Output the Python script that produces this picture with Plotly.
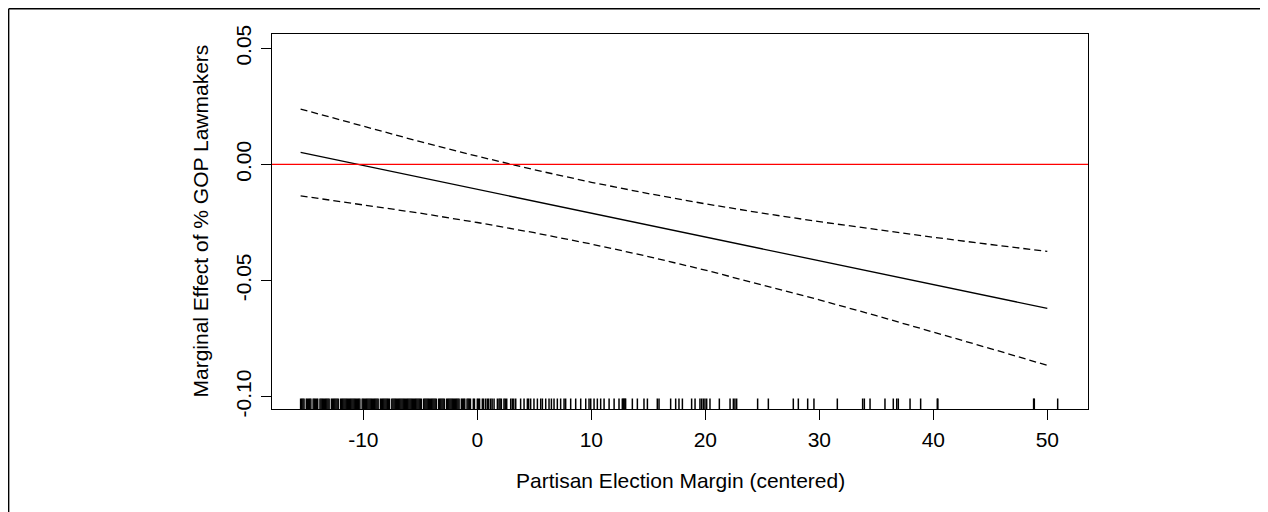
import plotly.graph_objects as go

# Marginal effect line and 95% CI
margin_x = [-15.5, -10, -5, 0, 5, 10, 15, 20, 25, 30, 35, 40, 45, 50]
effect = [0.00516, -0.00048, -0.00561, -0.01073, -0.01585, -0.02098, -0.02610,
          -0.03123, -0.03636, -0.04148, -0.04661, -0.05173, -0.05686, -0.06198]
upper = [0.02385, 0.01634, 0.00977, 0.00354, -0.00230, -0.00768, -0.01255,
         -0.01696, -0.02098, -0.02466, -0.02810, -0.03135, -0.03446, -0.03746]
lower = [-0.01353, -0.01730, -0.02099, -0.02500, -0.02940, -0.03428, -0.03965,
         -0.04550, -0.05174, -0.05830, -0.06512, -0.07211, -0.07926, -0.08650]

# Rug of observed election margins
rug_dense = [-15.5, -15.4, -15.3, -15.2, -15.0, -14.9, -14.8, -14.7, -14.6, -14.4, -14.3, -14.2,
             -14.1, -14.0, -13.8, -13.7, -13.6, -13.5, -13.4, -13.3, -13.2, -13.1, -13.0, -12.8,
             -12.7, -12.6, -12.5, -12.4, -12.3, -12.2, -12.0, -11.9, -11.8, -11.7, -11.6, -11.5,
             -11.4, -11.3, -11.2, -11.1, -11.0, -10.9, -10.8, -10.7, -10.6, -10.5, -10.4, -10.3,
             -10.1, -10.0, -9.9, -9.8, -9.7, -9.6, -9.5, -9.4, -9.3, -9.2, -9.1, -9.0, -8.9, -8.8,
             -8.7, -8.5, -8.4, -8.3, -8.2, -8.1, -8.0, -7.9, -7.8, -7.7, -7.5, -7.4, -7.3, -7.2,
             -7.1, -7.0, -6.9, -6.8, -6.7, -6.6, -6.5, -6.4, -6.3, -6.2, -6.1, -6.0, -5.9, -5.8,
             -5.7, -5.6, -5.5, -5.4, -5.3, -5.2, -5.1, -5.0, -4.9, -4.7, -4.6, -4.5, -4.4, -4.3,
             -4.2, -4.1, -4.0, -3.9, -3.8, -3.7, -3.6, -3.4, -3.3, -3.2, -3.1, -3.0, -2.9, -2.7,
             -2.6, -2.5, -2.4, -2.3, -2.2, -2.1, -2.0, -1.9, -1.8, -1.7, -1.6, -1.4, -1.3, -1.2,
             -1.1, -0.9, -0.8, -0.7, -0.6]
rug_mid = [-0.35, -0.25, 0.00, 0.10, 0.20, 0.44, 0.55, 0.73, 0.88, 1.00, 1.17, 1.30, 1.47, 1.76,
           1.90, 2.00, 2.11, 2.34, 2.45, 2.58, 2.93, 3.07, 3.20, 3.37, 3.80, 4.10, 4.39, 4.50,
           4.68, 4.97, 5.27, 5.56, 5.71, 6.00, 6.29, 6.50, 6.73, 7.02, 7.31, 7.61, 7.75, 8.19,
           8.63, 9.07, 9.51, 9.80, 9.95, 10.24, 10.53, 10.82, 11.12, 11.56, 12.00, 12.43, 12.72,
           12.80, 12.87, 12.95, 13.01, 13.60, 14.04, 14.62, 14.92, 15.79, 15.94, 16.96, 17.40,
           17.69, 17.99]
rug_sparse = [18.80, 19.10, 19.53, 19.68, 19.83, 19.97, 20.12, 20.41, 21.23, 22.17, 22.46,
              22.60, 22.75, 24.59, 25.53, 27.72, 28.16, 28.98, 29.53, 31.58, 33.80, 33.95,
              34.45, 35.76, 36.49, 36.79, 36.93, 37.96, 38.89, 40.35, 40.40, 48.80, 48.86, 50.91]
rug_x = rug_dense + rug_mid + rug_sparse

x_ticks = [-10, 0, 10, 20, 30, 40, 50]
x_tick_text = ["-10", "0", "10", "20", "30", "40", "50"]
y_ticks = [-0.10, -0.05, 0.00, 0.05]
y_tick_text = ["-0.10", "-0.05", "0.00", "0.05"]

x_range = [-18.01, 53.57]
y_range = [-0.10530, 0.05616]

FONT = "Liberation Sans, Arial, Helvetica, sans-serif"
FS = 21

fig = go.Figure()

fig.add_trace(go.Scatter(x=margin_x, y=upper, mode="lines",
                         line=dict(color="black", width=1.3, dash="7px,4px"), hoverinfo="skip"))
fig.add_trace(go.Scatter(x=margin_x, y=lower, mode="lines",
                         line=dict(color="black", width=1.3, dash="7px,4px"), hoverinfo="skip"))
fig.add_trace(go.Scatter(x=margin_x, y=effect, mode="lines",
                         line=dict(color="black", width=1.3), hoverinfo="skip"))
# rug: vertical line markers centred on the bottom of the axis, lower half clipped
fig.add_trace(go.Scatter(x=rug_x, y=[y_range[0]] * len(rug_x), mode="markers",
                         marker=dict(symbol="line-ns", size=15,
                                     line=dict(color="black", width=1.5)),
                         cliponaxis=True, hoverinfo="skip"))

# zero reference line
fig.add_shape(type="line", xref="paper", yref="y", x0=0, x1=1, y0=0, y1=0,
              line=dict(color="#FF0000", width=1.3))
# outer frame: only its top and left edges fall inside the picture
fig.add_shape(type="line", xref="paper", yref="paper", x0=-0.3227, x1=1.221, y0=1.0675, y1=1.0675,
              line=dict(color="black", width=1.4))
fig.add_shape(type="line", xref="paper", yref="paper", x0=-0.3227, x1=-0.3227, y0=-0.28, y1=1.0675,
              line=dict(color="black", width=1.4))

fig.update_layout(
    width=1268, height=512,
    margin=dict(l=264, r=188, t=26, b=111),
    paper_bgcolor="white", plot_bgcolor="white",
    showlegend=False,
    font=dict(family=FONT, size=FS, color="black"),
    annotations=[
        dict(text="Partisan Election Margin (centered)", xref="paper", yref="paper",
             x=0.5, y=-0.19, xanchor="center", yanchor="middle", showarrow=False,
             font=dict(family=FONT, size=FS, color="black")),
        dict(text="Marginal Effect of % GOP Lawmakers", xref="paper", yref="paper",
             x=-0.0882, y=0.5, xanchor="center", yanchor="middle", showarrow=False,
             textangle=-90, font=dict(family=FONT, size=FS, color="black")),
    ],
)
fig.update_xaxes(range=x_range, tickvals=x_ticks, ticktext=x_tick_text, ticks="outside",
                 ticklen=10, tickcolor="black", tickwidth=1.2, showline=True,
                 linecolor="black", linewidth=1.2, mirror=True, showgrid=False,
                 zeroline=False, ticklabelstandoff=2,
                 tickfont=dict(family=FONT, size=FS, color="black"))
fig.update_yaxes(range=y_range, tickvals=y_ticks, ticktext=y_tick_text, ticks="outside",
                 ticklen=10, tickcolor="black", tickwidth=1.2, showline=True,
                 linecolor="black", linewidth=1.2, mirror=True, showgrid=False,
                 zeroline=False, tickangle=-90, ticklabelstandoff=2,
                 tickfont=dict(family=FONT, size=FS, color="black"))

fig.write_html("out.html")
